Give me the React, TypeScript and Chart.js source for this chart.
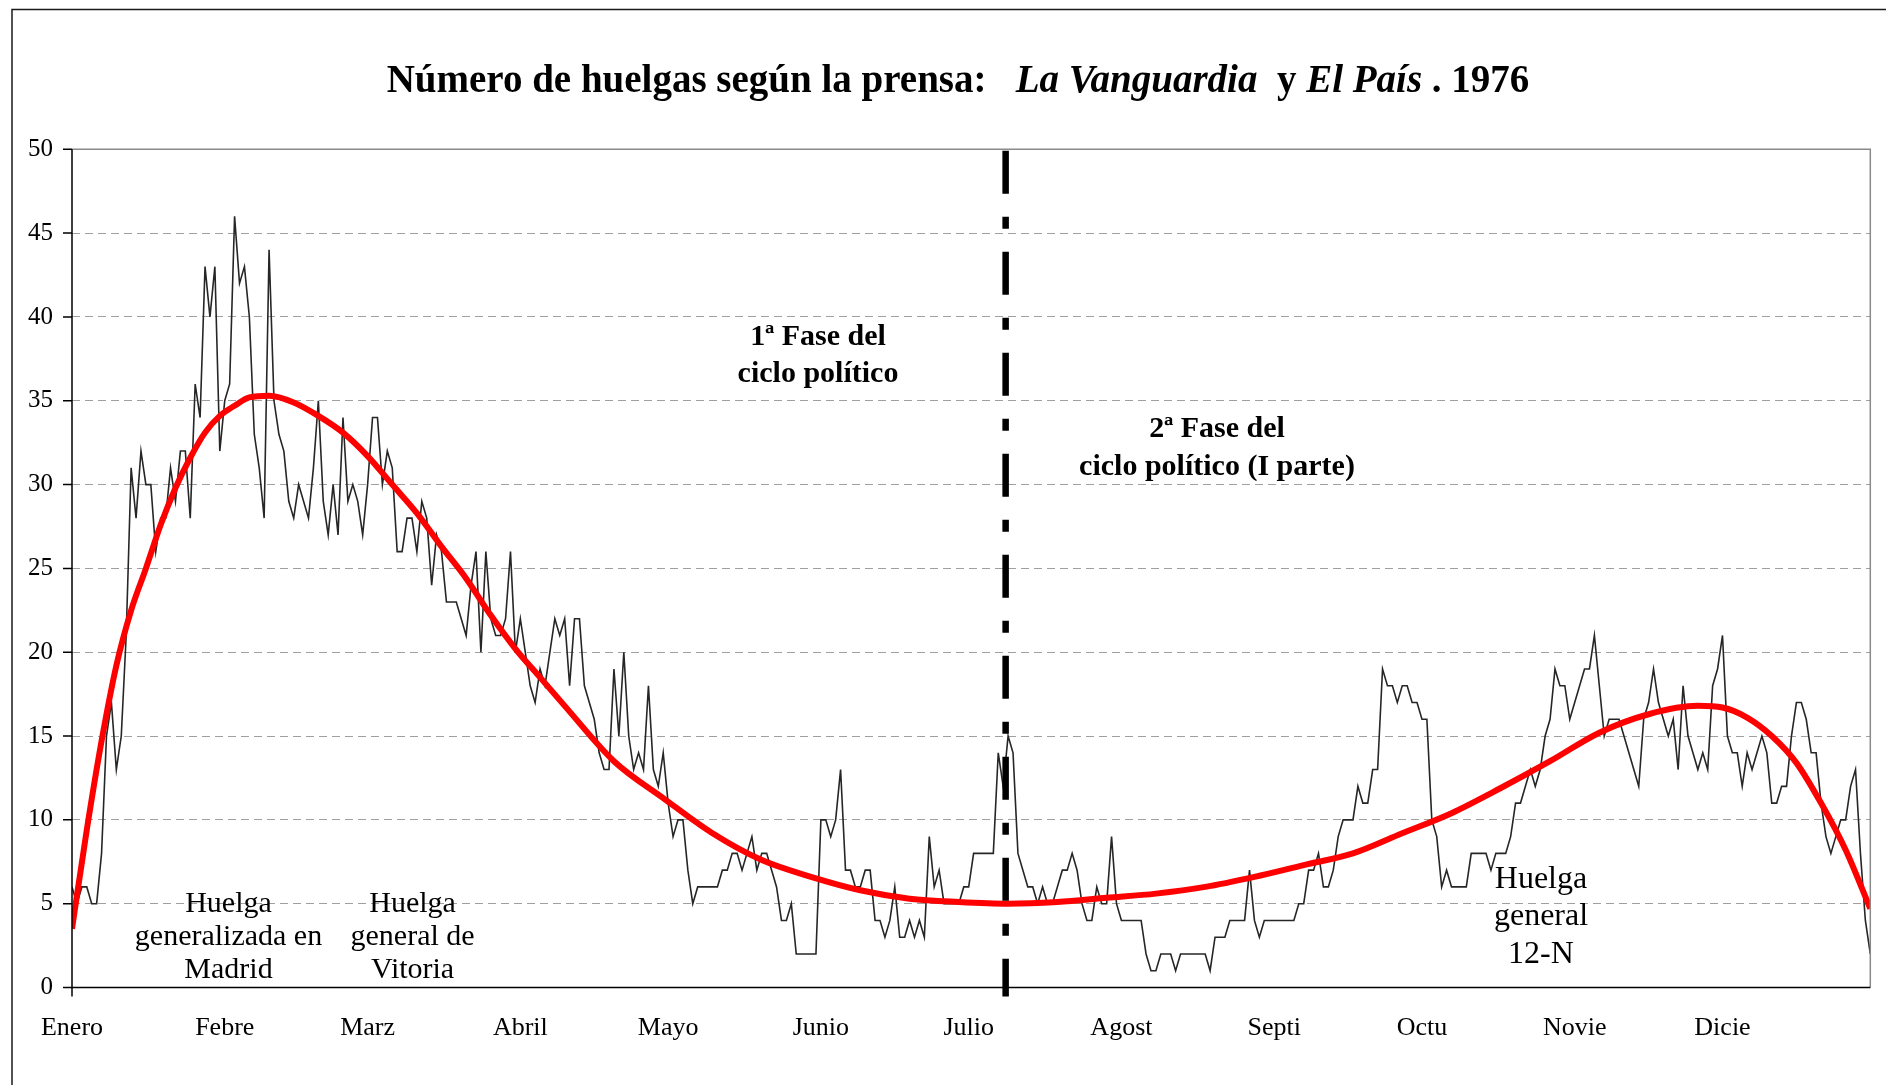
import React, { useEffect, useRef } from "react";
import { Chart, registerables } from "chart.js";

Chart.register(...registerables);

// ---------- DATA ----------
const MONTH_LABELS = ["Enero", "Febre", "Marz", "Abril", "Mayo", "Junio", "Julio", "Agost", "Septi", "Octu", "Novie", "Dicie"];
const MONTH_START_DAY = [0, 31, 60, 91, 121, 152, 182, 213, 244, 274, 305, 335];

// daily number of strikes, 1976 (one value per day)
const ENE = [6, 5, 6, 6, 5, 5, 8, 15, 17, 13, 15, 21, 31, 28, 32, 30, 30, 26, 28, 28, 31, 29, 32, 32, 28, 36, 34, 43, 40, 43, 32];
const FEB = [35, 36, 46, 42, 43, 40, 33, 31, 28, 44, 35, 33, 32, 29, 28, 30, 29, 28, 31, 35, 29, 27, 30, 27, 34, 29, 30, 29, 27];
const MAR = [30, 34, 34, 30, 32, 31, 26, 26, 28, 28, 26, 29, 28, 24, 27, 26, 23, 23, 23, 22, 21, 24, 26, 20, 26, 22, 21, 21, 22, 26, 20];
const ABR = [22, 20, 18, 17, 19, 18, 20, 22, 21, 22, 18, 22, 22, 18, 17, 16, 14, 13, 13, 19, 15, 20, 15, 13, 14, 13, 18, 13, 12, 14];
const MAY = [11, 9, 10, 10, 7, 5, 6, 6, 6, 6, 6, 7, 7, 8, 8, 7, 8, 9, 7, 8, 8, 7, 6, 4, 4, 5, 2, 2, 2, 2, 2];
const JUN = [10, 10, 9, 10, 13, 7, 7, 6, 6, 7, 7, 4, 4, 3, 4, 6, 3, 3, 4, 3, 4, 3, 9, 6, 7, 5, 5, 5, 5, 6];
const JUL = [6, 8, 8, 8, 8, 8, 14, 12, 15, 14, 8, 7, 6, 6, 5, 6, 5, 5, 6, 7, 7, 8, 7, 5, 4, 4, 6, 5, 5, 9, 5];
const AGO = [4, 4, 4, 4, 4, 2, 1, 1, 2, 2, 2, 1, 2, 2, 2, 2, 2, 2, 1, 3, 3, 3, 4, 4, 4, 4, 7, 4, 3, 4, 4];
const SEP = [4, 4, 4, 4, 4, 5, 5, 7, 7, 8, 6, 6, 7, 9, 10, 10, 10, 12, 11, 11, 13, 13, 19, 18, 18, 17, 18, 18, 17, 17];
const OCT = [16, 16, 10, 9, 6, 7, 6, 6, 6, 6, 8, 8, 8, 8, 7, 8, 8, 8, 9, 11, 11, 12, 13, 12, 13, 15, 16, 19, 18, 18, 16];
const NOV = [17, 18, 19, 19, 21, 18, 15, 16, 16, 16, 15, 14, 13, 12, 16, 17, 19, 17, 16, 15, 16, 13, 18, 15, 14, 13, 14, 13, 18, 19];
const DIC = [21, 15, 14, 14, 12, 14, 13, 14, 15, 14, 11, 11, 12, 12, 15, 17, 17, 16, 14, 14, 11, 9, 8, 9, 10, 10, 12, 13, 8, 4, 2];

const DAILY_STRIKES = [...ENE, ...FEB, ...MAR, ...ABR, ...MAY, ...JUN, ...JUL, ...AGO, ...SEP, ...OCT, ...NOV, ...DIC];

// red trend curve, read at these days
const TREND_DAY = [0, 3, 6, 9, 12, 15, 18, 21, 24, 27, 30, 33, 36, 40, 45, 50, 55, 60, 65, 70, 75, 80, 85, 90, 95, 100, 110, 120, 130, 140, 150, 160, 170, 180, 190, 200, 210, 220, 230, 240, 250, 260, 270, 280, 290, 300, 310, 320, 330, 335, 340, 345, 350, 355, 360, 365];
const TREND_VALUE = [3.5, 9.4, 14.7, 19.2, 22.5, 25.0, 27.6, 29.8, 31.6, 33.1, 34.1, 34.7, 35.2, 35.3, 34.9, 34.1, 33.1, 31.7, 30.0, 28.3, 26.3, 24.4, 22.2, 20.2, 18.5, 16.8, 13.5, 11.3, 9.2, 7.6, 6.6, 5.8, 5.3, 5.1, 5.0, 5.1, 5.35, 5.6, 6.0, 6.6, 7.3, 8.0, 9.2, 10.4, 11.9, 13.5, 15.2, 16.3, 16.8, 16.7, 16.1, 15.0, 13.4, 11.0, 8.2, 4.7];

const PHASE_SPLIT_DAY = 189.5;

const TITLE_PARTS = [
  { text: "Número de huelgas según la prensa:   ", italic: false },
  { text: "La Vanguardia", italic: true },
  { text: "  y ", italic: false },
  { text: "El País", italic: true },
  { text: " . 1976", italic: false },
];
const NOTE_MADRID = ["Huelga", "generalizada en", "Madrid"];
const NOTE_VITORIA = ["Huelga", "general de", "Vitoria"];
const NOTE_12N = ["Huelga", "general", "12-N"];
const PHASE_1 = ["1ª Fase del", "ciclo político"];
const PHASE_2 = ["2ª Fase del", "ciclo político (I parte)"];

// ---------- DRAWING ----------
const SERIF = '"Liberation Serif", "Times New Roman", serif';

const decorPlugin = {
  id: "decor",
  beforeDraw(chart: any) {
    const ctx = chart.ctx;
    ctx.save();
    ctx.fillStyle = "#ffffff";
    ctx.fillRect(0, 0, chart.width, chart.height);
    ctx.strokeStyle = "#1a1a1a";
    ctx.lineWidth = 1.5;
    ctx.beginPath();
    ctx.moveTo(12, chart.height + 5);
    ctx.lineTo(12, 9.5);
    ctx.lineTo(chart.width + 5, 9.5);
    ctx.stroke();
    ctx.restore();
  },
  afterDatasetsDraw(chart: any) {
    const { ctx, chartArea: a, scales } = chart;
    const x = scales.x;
    const y = scales.y;
    ctx.save();
    // plot frame (top / right)
    ctx.strokeStyle = "#8a8a8a";
    ctx.lineWidth = 1.5;
    ctx.beginPath();
    ctx.moveTo(a.left, a.top);
    ctx.lineTo(a.right, a.top);
    ctx.lineTo(a.right, a.bottom);
    ctx.stroke();
    // axes
    ctx.strokeStyle = "#000";
    ctx.lineWidth = 1.5;
    ctx.beginPath();
    ctx.moveTo(a.left, a.top);
    ctx.lineTo(a.left, a.bottom + 9);
    ctx.moveTo(a.left, a.bottom);
    ctx.lineTo(a.right, a.bottom);
    for (let v = 0; v <= 50; v += 5) {
      const py = y.getPixelForValue(v);
      ctx.moveTo(a.left - 9, py);
      ctx.lineTo(a.left, py);
    }
    ctx.stroke();
    // phase split line
    const px = x.getPixelForValue(PHASE_SPLIT_DAY);
    ctx.lineWidth = 6.5;
    ctx.setLineDash([43, 23, 12, 23]);
    ctx.beginPath();
    ctx.moveTo(px, a.top + 1.5);
    ctx.lineTo(px, a.bottom + 9);
    ctx.stroke();
    ctx.restore();
  },
  afterDraw(chart: any) {
    const ctx = chart.ctx;
    ctx.save();
    ctx.fillStyle = "#000";
    // title
    ctx.textBaseline = "alphabetic";
    ctx.textAlign = "left";
    const fontFor = (italic: boolean) => `${italic ? "italic " : ""}bold 39px ${SERIF}`;
    let total = 0;
    const widths = TITLE_PARTS.map((p) => {
      ctx.font = fontFor(p.italic);
      const w = ctx.measureText(p.text).width;
      total += w;
      return w;
    });
    let tx = 958 - total / 2;
    TITLE_PARTS.forEach((p, i) => {
      ctx.font = fontFor(p.italic);
      ctx.fillText(p.text, tx, 92);
      tx += widths[i];
    });
    // notes
    const lines = (arr: string[], cx: number, ys: number[], font: string) => {
      ctx.font = font;
      ctx.textAlign = "center";
      ctx.textBaseline = "middle";
      arr.forEach((t, i) => ctx.fillText(t, cx, ys[i]));
    };
    lines(NOTE_MADRID, 228.5, [904, 937, 970], `30px ${SERIF}`);
    lines(NOTE_VITORIA, 412.6, [904, 937, 970], `30px ${SERIF}`);
    lines(NOTE_12N, 1541, [880, 917, 955], `32px ${SERIF}`);
    lines(PHASE_1, 818, [337, 374], `bold 30px ${SERIF}`);
    lines(PHASE_2, 1217, [429, 467], `bold 30px ${SERIF}`);
    ctx.restore();
  },
};

export default function App() {
  const ref = useRef<HTMLCanvasElement>(null);
  useEffect(() => {
    document.body.style.margin = "0";
    const canvas = ref.current!;
    const chart = new Chart(canvas, {
      type: "line",
      data: {
        datasets: [
          {
            label: "Tendencia",
            data: TREND_DAY.map((d, i) => ({ x: d, y: TREND_VALUE[i] })),
            borderColor: "#ff0000",
            borderWidth: 6,
            pointRadius: 0,
            cubicInterpolationMode: "monotone",
            fill: false,
            order: 0,
          },
          {
            label: "Huelgas",
            data: DAILY_STRIKES.map((v, i) => ({ x: i, y: v })),
            borderColor: "#262626",
            borderWidth: 1.6,
            pointRadius: 0,
            tension: 0,
            fill: false,
            order: 1,
          },
        ],
      },
      options: {
        animation: false,
        responsive: false,
        devicePixelRatio: 1,
        events: [],
        layout: { padding: { left: 0, top: 149.3, right: 15.7, bottom: 0 } },
        plugins: {
          legend: { display: false },
          tooltip: { enabled: false },
          title: { display: false },
        },
        scales: {
          x: {
            type: "linear",
            min: 0,
            max: 365,
            grid: { display: false, drawTicks: false },
            border: { display: false },
            afterBuildTicks: (scale: any) => {
              scale.ticks = MONTH_START_DAY.map((v) => ({ value: v }));
            },
            afterFit: (scale: any) => {
              scale.height = 97.5;
            },
            ticks: {
              autoSkip: false,
              maxRotation: 0,
              minRotation: 0,
              padding: 25,
              color: "#000",
              font: { family: SERIF, size: 26 },
              callback: (_v: any, i: number) => MONTH_LABELS[i],
            },
          },
          y: {
            min: 0,
            max: 50,
            grid: { color: "#a0a0a0", lineWidth: 1, drawTicks: false },
            border: { display: false, dash: [8, 5] },
            afterFit: (scale: any) => {
              scale.width = 72;
            },
            ticks: {
              stepSize: 5,
              padding: 19,
              color: "#000",
              font: { family: SERIF, size: 25 },
            },
          },
        },
      },
      plugins: [decorPlugin],
    } as any);
    return () => chart.destroy();
  }, []);
  return (
    <div style={{ position: "absolute", left: 0, top: 0, width: 1886, height: 1085, background: "#fff" }}>
      <canvas ref={ref} width={1886} height={1085} style={{ width: 1886, height: 1085, display: "block" }} />
    </div>
  );
}
